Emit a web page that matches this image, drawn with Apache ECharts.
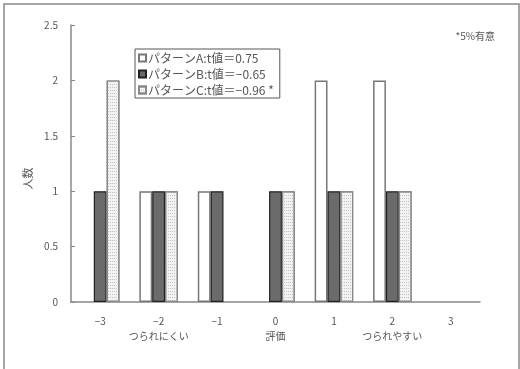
<!DOCTYPE html>
<html><head><meta charset="utf-8">
<script src="https://cdn.jsdelivr.net/npm/echarts@6/dist/echarts.min.js"></script>
<style>html,body{margin:0;padding:0;background:#fff}#c{width:520px;height:369px}</style>
</head><body><div id="c"></div>
<script>
var categories = ['−3', '−2', '−1', '0', '1', '2', '3'];
var subLabels = ['', 'つられにくい', '', '評価', '', 'つられやすい', ''];
var seriesNames = ['パターンA:t値＝0.75', 'パターンB:t値＝−0.65', 'パターンC:t値＝−0.96 *'];
var valuesA = [0, 1, 1, 0, 2, 2, 0];
var valuesB = [1, 1, 1, 1, 1, 1, 0];
var valuesC = [2, 1, 0, 1, 1, 1, 0];
var yTicks = [0, 0.5, 1, 1.5, 2, 2.5];
var yName = '人数';
var note = '*5%有意';

var FONT = '"Noto Sans CJK JP", "DejaVu Sans", sans-serif';
var chart = echarts.init(document.getElementById('c'), null, {renderer: 'canvas'});
var labels = categories.map(function (c, i) { return subLabels[i] ? c + '\n' + subLabels[i] : c; });
function noZero(arr) { return arr.map(function (v) { return v === 0 ? '-' : v; }); }
chart.setOption({
  animation: false,
  textStyle: {fontFamily: FONT},
  graphic: [{
    type: 'rect', shape: {x: 4, y: 4, width: 515, height: 380},
    style: {fill: 'none', stroke: '#888', lineWidth: 1.5}, silent: true
  }],
  title: {
    text: note, right: 20, top: 26,
    textStyle: {fontSize: 10, fontWeight: 'normal', color: '#555', fontFamily: FONT}
  },
  legend: {
    orient: 'vertical', left: 135, top: 49,
    padding: [3, 6, 2, 3], itemGap: 4,
    itemWidth: 7, itemHeight: 7, icon: 'rect',
    borderColor: '#555', borderWidth: 1,
    textStyle: {fontSize: 12, color: '#555', fontFamily: FONT, padding: [0, 0, 0, -3]},
    data: seriesNames
  },
  grid: {left: 71, right: 40, top: 25, bottom: 67},
  xAxis: {
    type: 'category', data: labels,
    axisLine: {lineStyle: {color: '#888', width: 1.5}},
    axisTick: {inside: true, length: 4, lineStyle: {color: '#888'}},
    axisLabel: {interval: 0, fontSize: 10, color: '#555', margin: 12, lineHeight: 15, verticalAlign: 'top'}
  },
  yAxis: {
    type: 'value', min: yTicks[0], max: yTicks[yTicks.length - 1], interval: 0.5,
    name: yName, nameLocation: 'middle', nameGap: 27,
    nameTextStyle: {fontSize: 11, color: '#555', padding: [0, 30, 0, 0]},
    splitLine: {show: false},
    axisLine: {show: true, lineStyle: {color: '#888', width: 1.5}},
    axisTick: {show: true, inside: true, length: 4, lineStyle: {color: '#888'}},
    axisLabel: {fontSize: 10, color: '#555', margin: 13,
      formatter: function (v) { return String(v); }}
  },
  series: [
    {name: seriesNames[0], type: 'bar', data: noZero(valuesA), barGap: '0%', barCategoryGap: '34%',
     itemStyle: {color: '#fff', borderColor: '#777', borderWidth: 1.5}},
    {name: seriesNames[1], type: 'bar', data: noZero(valuesB),
     itemStyle: {color: '#6b6b6b', borderColor: '#222', borderWidth: 1.2}},
    {name: seriesNames[2], type: 'bar', data: noZero(valuesC),
     itemStyle: {color: '#f2f2f2', borderColor: '#888', borderWidth: 1.2,
       decal: {symbol: 'rect', symbolSize: 1, color: '#c4c4c4', dashArrayX: [1, 1], dashArrayY: [1, 2], rotation: 0}}}
  ]
});
</script></body></html>
